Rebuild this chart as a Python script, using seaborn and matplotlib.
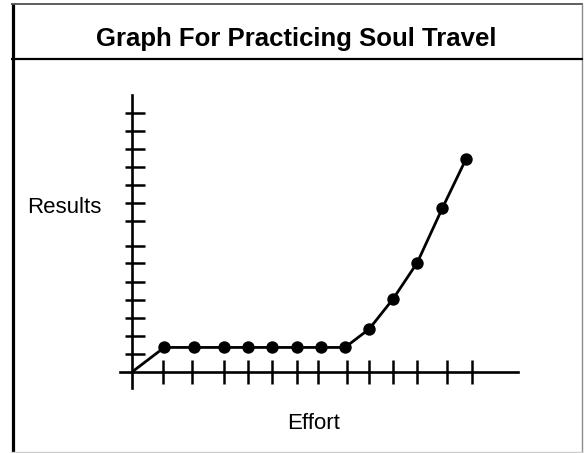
import matplotlib
matplotlib.use("Agg")
import matplotlib.pyplot as plt
import seaborn as sns
import pandas as pd
from matplotlib.lines import Line2D

# Measured points along the effort/results curve
effort = [1.29, 2.49, 3.68, 4.65, 5.61, 6.59, 7.56, 8.52, 9.49, 10.45, 11.41, 12.41, 13.36]
results = [1.33, 1.33, 1.33, 1.33, 1.33, 1.33, 1.33, 1.33, 2.33, 3.97, 5.92, 8.86, 11.53]

# Hand-placed tick marks on each axis (no labels)
effort_ticks = [1.24, 2.40, 3.68, 4.64, 5.60, 6.60, 7.44, 8.60, 9.48, 10.44, 11.40, 12.60, 13.60]
result_ticks = [0.97, 1.95, 2.92, 3.90, 4.87, 5.90, 6.82, 8.18, 9.15, 10.12, 11.10, 12.07, 13.05, 14.02]

title = "Graph For Practicing Soul Travel"
x_label = "Effort"
y_label = "Results"

sns.set_style("white")
plt.rcParams["font.family"] = ["Liberation Sans", "DejaVu Sans"]

W, H = 585, 453
fig = plt.figure(figsize=(W / 100, H / 100), dpi=100)

# axes box in pixels: x from -0.5 .. 15.44 (25 px/unit), y from -0.85 .. 15 (18.47 px/unit)
xmin, xmax = -0.5, 15.44
ymin, ymax = -0.85, 15.0
px_x, px_y = 25.0, 18.47
origin_px = (132.0, 372.0)
left_px = origin_px[0] + xmin * px_x
width_px = (xmax - xmin) * px_x
bottom_px = origin_px[1] - ymin * px_y
height_px = (ymax - ymin) * px_y
ax = fig.add_axes([left_px / W, 1 - bottom_px / H, width_px / W, height_px / H])

line_df = pd.DataFrame({"effort": [0.0] + effort, "results": [0.0] + results})
pts_df = pd.DataFrame({"effort": effort, "results": results})

sns.lineplot(data=line_df, x="effort", y="results", sort=False, color="black",
             linewidth=2.0, ax=ax, clip_on=False, zorder=3)
sns.scatterplot(data=pts_df, x="effort", y="results", color="black", edgecolor="black",
                s=80, linewidth=0, ax=ax, clip_on=False, zorder=4)

ax.set_xlim(xmin, xmax)
ax.set_ylim(ymin, ymax)
ax.set_xlabel("")
ax.set_ylabel("")

for side in ("top", "right"):
    ax.spines[side].set_visible(False)
for side in ("left", "bottom"):
    ax.spines[side].set_position(("data", 0))
    ax.spines[side].set_linewidth(1.9)
    ax.spines[side].set_color("black")

ax.set_xticks(effort_ticks)
ax.set_yticks(result_ticks)
# y ticks reach further to the right of the axis than to the left:
# major ticks point inward, minor ticks at the same spots point outward
ax.yaxis.remove_overlapping_locs = False
ax.set_yticks(result_ticks, minor=True)
ax.tick_params(axis="x", direction="inout", length=17, width=1.8, color="black",
               labelbottom=False, bottom=True)
ax.tick_params(axis="y", which="major", direction="in", length=9, width=1.8,
               color="black", labelleft=False, left=True)
ax.tick_params(axis="y", which="minor", direction="out", length=5, width=1.8,
               color="black", labelleft=False, left=True)
ax.patch.set_alpha(0)

# Text
fig.text(296 / W, 1 - 46 / H, title, ha="center", va="baseline",
         fontsize=18.5, fontweight="bold", color="black")
fig.text(64 / W, 1 - 213 / H, y_label, ha="center", va="baseline",
         fontsize=16, color="black")
fig.text(314 / W, 1 - 429 / H, x_label, ha="center", va="baseline",
         fontsize=16, color="black")

# Outer frame and title divider
def fig_line(x0, y0, x1, y1, color, lw):
    fig.add_artist(Line2D([x0 / W, x1 / W], [1 - y0 / H, 1 - y1 / H],
                          color=color, linewidth=lw, solid_capstyle="butt"))

fig_line(12.7, 3.5, 12.7, 453, "black", 2.3)
fig_line(11, 4, 583, 4, "#333333", 1.1)
fig_line(582, 3.5, 582, 452, "#8c8c8c", 1.0)
fig_line(11, 451.7, 583, 451.7, "#cccccc", 1.0)
fig_line(11, 58.5, 583, 58.5, "black", 1.6)

fig.savefig("out.png", dpi=100)
